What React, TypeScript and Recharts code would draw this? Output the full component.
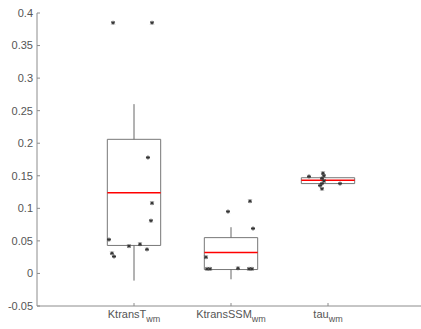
import { ComposedChart, XAxis, YAxis, Scatter, ReferenceArea, ReferenceLine } from "recharts";

const categories = ["KtransT", "KtransSSM", "tau"];
const boxQ1 = [0.043, 0.006, 0.138];
const boxMedian = [0.124, 0.032, 0.143];
const boxQ3 = [0.206, 0.055, 0.147];
const whiskerLow = [-0.011, -0.009, 0.138];
const whiskerHigh = [0.26, 0.071, 0.147];
const yTicks = [-0.05, 0, 0.05, 0.1, 0.15, 0.2, 0.25, 0.3, 0.35, 0.4];

// jittered data points [x, y]
const pointsKtransT = [
  [0.784, 0.385], [1.186, 0.385], [1.144, 0.178], [1.186, 0.108], [1.175, 0.081],
  [0.742, 0.052], [0.948, 0.042], [1.062, 0.045], [1.134, 0.037], [0.773, 0.031], [0.794, 0.026],
];
const pointsKtransSSM = [
  [1.969, 0.095], [2.196, 0.111], [2.227, 0.069], [1.742, 0.025], [1.753, 0.007],
  [1.784, 0.007], [2.072, 0.008], [2.186, 0.007], [2.216, 0.007],
];
const pointsTau = [
  [2.804, 0.149], [2.948, 0.154], [2.958, 0.15], [2.938, 0.146], [2.938, 0.138],
  [2.918, 0.135], [2.938, 0.13], [3.124, 0.138], [2.959, 0.142],
];

const halfWidth = 0.275;
const axisColor = "#8c8c8c";
const textColor = "#555";
const font = "Liberation Sans, Arial, sans-serif";

const toPts = (arr: number[][]) => arr.map(([x, y]) => ({ x, y }));

const XTick = (props: any) => {
  const { x, y, payload } = props;
  const name = categories[payload.value - 1];
  return (
    <text x={x} y={y + 9} textAnchor="middle" fill={textColor} fontSize={11} fontFamily={font}>
      <tspan>{name}</tspan>
      <tspan dy={4} fontSize={9}>wm</tspan>
    </text>
  );
};

// small asterisk-like marker
const Star = (props: any) => {
  const { cx, cy } = props;
  return (
    <g stroke="#333" strokeWidth={1}>
      <line x1={cx - 2} y1={cy} x2={cx + 2} y2={cy} />
      <line x1={cx} y1={cy - 2} x2={cx} y2={cy + 2} />
      <line x1={cx - 1.5} y1={cy - 1.5} x2={cx + 1.5} y2={cy + 1.5} />
      <line x1={cx - 1.5} y1={cy + 1.5} x2={cx + 1.5} y2={cy - 1.5} />
    </g>
  );
};

export default function App() {
  const boxes: any[] = [];
  categories.forEach((_, i) => {
    const c = i + 1;
    boxes.push(
      <ReferenceLine key={"wl" + i} segment={[{ x: c, y: whiskerLow[i] }, { x: c, y: boxQ1[i] }]} stroke="#666" strokeWidth={1} ifOverflow="visible" />,
      <ReferenceLine key={"wh" + i} segment={[{ x: c, y: boxQ3[i] }, { x: c, y: whiskerHigh[i] }]} stroke="#666" strokeWidth={1} ifOverflow="visible" />,
      <ReferenceArea key={"b" + i} x1={c - halfWidth} x2={c + halfWidth} y1={boxQ1[i]} y2={boxQ3[i]} fill="#fff" fillOpacity={0} stroke="#777" strokeWidth={1} ifOverflow="visible" />,
      <ReferenceLine key={"m" + i} segment={[{ x: c - halfWidth, y: boxMedian[i] }, { x: c + halfWidth, y: boxMedian[i] }]} stroke="#ff0000" strokeWidth={1.5} ifOverflow="visible" />
    );
  });
  return (
    <div style={{ position: "absolute", left: 0, top: 0, background: "#fff" }}>
      <ComposedChart width={421} height={329} margin={{ top: 13, right: -4, bottom: 0, left: 0 }}>
        <XAxis
          type="number"
          dataKey="x"
          domain={[0, 4]}
          ticks={[1, 2, 3]}
          tick={<XTick />}
          tickSize={-3}
          tickMargin={6}
          stroke={axisColor}
          height={23}
          allowDataOverflow
        />
        <YAxis
          type="number"
          dataKey="y"
          domain={[-0.05, 0.4]}
          ticks={yTicks}
          tickFormatter={(v: number) => String(Math.round(v * 100) / 100)}
          tick={{ fill: textColor, fontSize: 11, fontFamily: font }}
          tickSize={-3}
          tickMargin={7}
          width={37}
          stroke={axisColor}
          allowDataOverflow
        />
        {boxes}
        <Scatter data={toPts(pointsKtransT)} shape={<Star />} isAnimationActive={false} />
        <Scatter data={toPts(pointsKtransSSM)} shape={<Star />} isAnimationActive={false} />
        <Scatter data={toPts(pointsTau)} shape={<Star />} isAnimationActive={false} />
      </ComposedChart>
    </div>
  );
}
